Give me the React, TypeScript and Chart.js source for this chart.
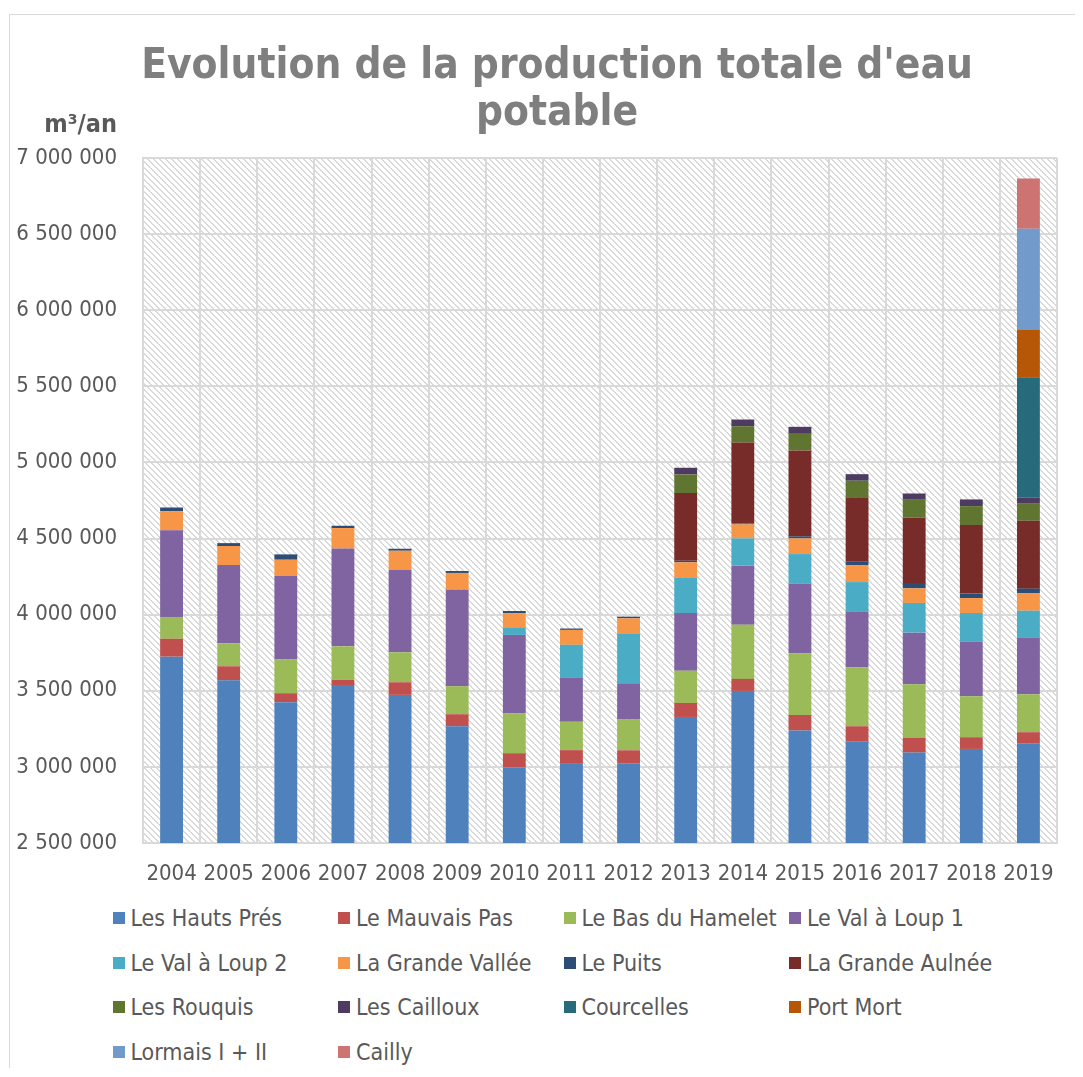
import React, { useEffect, useRef } from 'react';
import { Chart, registerables } from 'chart.js';

Chart.register(...registerables);

const years = ['2004', '2005', '2006', '2007', '2008', '2009', '2010', '2011', '2012', '2013', '2014', '2015', '2016', '2017', '2018', '2019'];

const seriesNames = [
  'Les Hauts Prés', 'Le Mauvais Pas', 'Le Bas du Hamelet', 'Le Val à Loup 1',
  'Le Val à Loup 2', 'La Grande Vallée', 'Le Puits', 'La Grande Aulnée',
  'Les Rouquis', 'Les Cailloux', 'Courcelles', 'Port Mort',
  'Lormais I + II', 'Cailly',
];

const seriesColors = [
  '#4F81BD', '#C0504D', '#9BBB59', '#8064A2',
  '#4BACC6', '#F79646', '#2C4D75', '#772C2A',
  '#5F7530', '#4D3B62', '#276A7C', '#B65708',
  '#729ACA', '#CD7371',
];

const hautsPres = [3724000, 3569000, 3425000, 3538000, 3473000, 3267000, 2996000, 3020000, 3024000, 3328000, 3499000, 3239000, 3166000, 3094000, 3118000, 3153000];
const mauvaisPas = [118000, 92000, 59000, 33000, 83000, 79000, 94000, 90000, 85000, 92000, 79000, 102000, 101000, 96000, 77000, 75000];
const basHamelet = [143000, 151000, 221000, 221000, 197000, 184000, 260000, 186000, 202000, 212000, 356000, 405000, 387000, 353000, 269000, 249000];
const valLoup1 = [569000, 514000, 549000, 643000, 540000, 636000, 517000, 289000, 234000, 379000, 388000, 457000, 366000, 339000, 357000, 370000];
const valLoup2 = [0, 0, 0, 0, 0, 0, 50000, 217000, 328000, 234000, 179000, 195000, 194000, 195000, 190000, 179000];
const grandeVallee = [126000, 125000, 107000, 134000, 127000, 108000, 92000, 98000, 103000, 99000, 92000, 103000, 110000, 96000, 98000, 116000];
const puits = [24000, 19000, 35000, 15000, 13000, 13000, 15000, 9000, 11000, 10000, 7000, 13000, 24000, 35000, 31000, 29000];
const grandeAulnee = [0, 0, 0, 0, 0, 0, 0, 0, 0, 445000, 531000, 565000, 424000, 429000, 449000, 446000];
const rouquis = [0, 0, 0, 0, 0, 0, 0, 0, 0, 122000, 107000, 109000, 108000, 118000, 124000, 116000];
const cailloux = [0, 0, 0, 0, 0, 0, 0, 0, 0, 44000, 44000, 46000, 43000, 41000, 44000, 37000];
const courcelles = [0, 0, 0, 0, 0, 0, 0, 0, 0, 0, 0, 0, 0, 0, 0, 790000];
const portMort = [0, 0, 0, 0, 0, 0, 0, 0, 0, 0, 0, 0, 0, 0, 0, 310000];
const lormais = [0, 0, 0, 0, 0, 0, 0, 0, 0, 0, 0, 0, 0, 0, 0, 665000];
const cailly = [0, 0, 0, 0, 0, 0, 0, 0, 0, 0, 0, 0, 0, 0, 0, 330000];

const seriesValues = [
  hautsPres, mauvaisPas, basHamelet, valLoup1,
  valLoup2, grandeVallee, puits, grandeAulnee,
  rouquis, cailloux, courcelles, portMort,
  lormais, cailly,
];

const yMin = 2500000;
const yMax = 7000000;
const yStep = 500000;

const titleLines = ["Evolution de la production totale d'eau", 'potable'];
const unitLabel = 'm³/an';

const FONT = "'DejaVu Sans Condensed', 'DejaVu Sans', sans-serif";
const TEXT = '#595959';
const GRID = '#d9d9d9';

function formatTick(v: number): string {
  return Math.round(v).toString().replace(/\B(?=(\d{3})+(?!\d))/g, ' ');
}

function makePattern(ctx: CanvasRenderingContext2D) {
  const c = document.createElement('canvas');
  c.width = 6;
  c.height = 6;
  const g = c.getContext('2d')!;
  g.fillStyle = '#ffffff';
  g.fillRect(0, 0, 6, 6);
  g.fillStyle = '#dadada';
  for (let y = 0; y < 6; y++) {
    for (let x = 0; x < 6; x++) {
      if ((((x - y) % 6) + 6) % 6 < 2) g.fillRect(x, y, 1, 1);
    }
  }
  return ctx.createPattern(c, 'repeat');
}

export default function App() {
  const ref = useRef<HTMLCanvasElement | null>(null);

  useEffect(() => {
    const canvas = ref.current;
    if (!canvas) return;
    const ctx0 = canvas.getContext('2d')!;
    const pattern = makePattern(ctx0);

    const hatchPlugin = {
      id: 'hatch',
      beforeDraw(chart: any) {
        const { ctx, chartArea: a } = chart;
        ctx.save();
        ctx.fillStyle = pattern;
        ctx.fillRect(a.left, a.top, a.right - a.left, a.bottom - a.top);
        ctx.restore();
      },
    };

    const textPlugin = {
      id: 'texts',
      afterDraw(chart: any) {
        const { ctx } = chart;
        ctx.save();
        ctx.fillStyle = '#7f7f7f';
        ctx.font = `bold 42px ${FONT}`;
        ctx.textAlign = 'center';
        ctx.textBaseline = 'alphabetic';
        ctx.fillText(titleLines[0], 549, 70);
        ctx.fillText(titleLines[1], 549, 117);
        ctx.fillStyle = TEXT;
        ctx.font = `bold 25px ${FONT}`;
        ctx.textAlign = 'right';
        ctx.fillText(unitLabel, 109, 124);
        ctx.restore();
      },
    };

    const chart = new Chart(canvas, {
      type: 'bar',
      data: {
        labels: years,
        datasets: seriesNames.map((name, i) => ({
          label: name,
          data: seriesValues[i],
          backgroundColor: seriesColors[i],
          borderWidth: 0,
          barPercentage: 0.4,
          categoryPercentage: 1,
        })),
      },
      options: {
        responsive: false,
        animation: false,
        layout: { padding: { top: 150, right: 26, left: 0, bottom: 0 } },
        plugins: {
          legend: { display: false },
          title: { display: false },
          tooltip: { enabled: false },
        },
        scales: {
          x: {
            stacked: true,
            grid: { color: GRID, lineWidth: 2, drawTicks: false, offset: true },
            border: { display: true, color: GRID, width: 2 },
            ticks: {
              color: TEXT,
              font: { family: FONT, size: 22 },
              padding: 18,
              maxRotation: 0,
              autoSkip: false,
            },
            afterFit: (s: any) => { s.height = 55; },
          },
          y: {
            stacked: true,
            min: yMin,
            max: yMax,
            grid: { color: GRID, lineWidth: 2, drawTicks: false },
            border: { display: true, color: GRID, width: 2 },
            ticks: {
              stepSize: yStep,
              color: TEXT,
              font: { family: FONT, size: 22 },
              padding: 26,
              callback: (v: any) => formatTick(Number(v)),
            },
            afterFit: (s: any) => { s.width = 135; },
          },
        },
      },
      plugins: [hatchPlugin, textPlugin],
    });
    return () => chart.destroy();
  }, []);

  const colX = [112.5, 338, 563.5, 789];
  const rowY = [918, 962.5, 1007, 1051.5];

  return (
    <div style={{ position: 'relative', width: 1075, height: 1060, overflow: 'hidden', fontFamily: FONT }}>
      <div style={{ position: 'absolute', left: 1, top: 6, width: 1200, height: 1200, borderTop: `1px solid ${GRID}`, borderLeft: `1px solid ${GRID}` }} />
      <canvas ref={ref} width={1075} height={890} style={{ position: 'absolute', left: 0, top: 0, width: 1075, height: 890 }} />
      {seriesNames.map((name, i) => {
        const col = i % 4;
        const row = Math.floor(i / 4);
        return (
          <div
            key={name}
            style={{
              position: 'absolute',
              left: colX[col] - 8,
              top: rowY[row] - 8 - 15,
              height: 30,
              display: 'flex',
              alignItems: 'center',
              whiteSpace: 'nowrap',
              color: TEXT,
              fontSize: 23,
              lineHeight: '30px',
            }}
          >
            <span style={{ display: 'inline-block', width: 12, height: 12, background: seriesColors[i], marginRight: 6 }} />
            <span>{name}</span>
          </div>
        );
      })}
    </div>
  );
}
